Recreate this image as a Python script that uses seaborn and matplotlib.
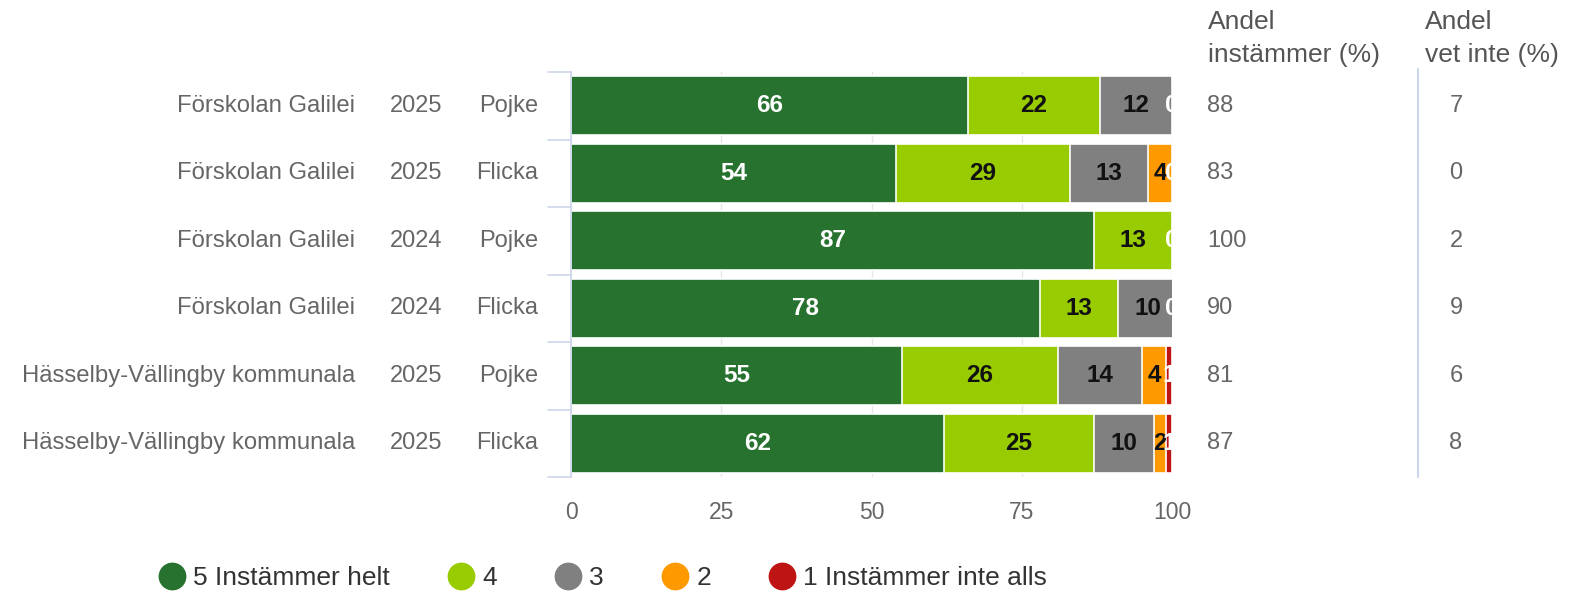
import matplotlib
matplotlib.use("Agg")
import matplotlib.pyplot as plt
import matplotlib.transforms as mtransforms
from matplotlib.lines import Line2D
import numpy as np
import pandas as pd
import seaborn as sns

# data
schools = ["Förskolan Galilei", "Förskolan Galilei", "Förskolan Galilei",
           "Förskolan Galilei", "Hässelby-Vällingby kommunala", "Hässelby-Vällingby kommunala"]
years = ["2025", "2025", "2024", "2024", "2025", "2025"]
genders = ["Pojke", "Flicka", "Pojke", "Flicka", "Pojke", "Flicka"]

series_names = ["5 Instämmer helt", "4", "3", "2", "1 Instämmer inte alls"]
s5 = [66, 54, 87, 78, 55, 62]
s4 = [22, 29, 13, 13, 26, 25]
s3 = [12, 13, 0, 10, 14, 10]
s2 = [0, 4, 0, 0, 4, 2]
s1 = [0, 0, 0, 0, 1, 1]
andel_instammer = [88, 83, 100, 90, 81, 87]
andel_vet_inte = [7, 0, 2, 9, 6, 8]

colors = ["#26722e", "#99cc00", "#808080", "#ff9900", "#bf1414"]
label_colors = ["white", "#111111", "#111111", "#111111", "white"]

sns.set_style("white")
plt.rcParams["font.family"] = ["Liberation Sans", "DejaVu Sans"]

W, H = 1572, 595
fig = plt.figure(figsize=(W / 100, H / 100), dpi=100)
ax = fig.add_axes([571 / W, 1 - 477 / H, 601 / W, 405 / H])

rows = [f"{s}|{y}|{g}" for s, y, g in zip(schools, years, genders)]
vals = np.array([s5, s4, s3, s2, s1], dtype=float)
cum = np.cumsum(vals, axis=0)

# stacked bars: draw cumulative totals, largest first
for k in range(len(series_names) - 1, -1, -1):
    df = pd.DataFrame({"row": rows, "value": cum[k]})
    sns.barplot(data=df, x="value", y="row", orient="h", order=rows,
                color=colors[k], width=0.87, edgecolor="white", linewidth=1.2,
                saturation=1, ax=ax, zorder=2)

ax.set_xlim(0, 100)
ax.set_ylim(len(rows) - 0.5, -0.5)
ax.set_xticks([0, 25, 50, 75, 100])
ax.set_xlabel("")
ax.set_ylabel("")
ax.set_yticks([])
ax.tick_params(axis="x", length=0, pad=17, labelsize=16.5, labelcolor="#666666")
ax.xaxis.grid(True, color="#e6e6e6", lw=1, zorder=0)
ax.set_axisbelow(True)
for side in ["top", "right", "bottom"]:
    ax.spines[side].set_visible(False)
ax.spines["left"].set_color("#ccd6eb")
ax.spines["left"].set_linewidth(1.2)

# category separators on the y axis
sep = mtransforms.blended_transform_factory(fig.transFigure, ax.transData)
for b in np.arange(-0.5, len(rows), 1.0):
    ax.plot([548 / W, 571 / W], [b, b], color="#ccd6eb", lw=1.2,
            transform=sep, clip_on=False)

# segment value labels
for i in range(len(rows)):
    for k in range(len(series_names)):
        v = vals[k, i]
        if v == 0 and k != len(series_names) - 1:
            continue
        start = cum[k, i] - v
        xc = min(start + v / 2, 99.9)
        ax.text(xc, i, f"{int(v)}", ha="center", va="center", fontsize=17.5,
                fontweight="bold", color=label_colors[k], zorder=5, clip_on=False)

# left category labels (three columns)
for i in range(len(rows)):
    ax.text(355 / W, i, schools[i], transform=sep, ha="right", va="center",
            fontsize=17.2, color="#666666")
    ax.text(442 / W, i, years[i], transform=sep, ha="right", va="center",
            fontsize=17, color="#666666")
    ax.text(538 / W, i, genders[i], transform=sep, ha="right", va="center",
            fontsize=17, color="#666666")

# right-hand columns
fig.text(1208 / W, 1 - 10 / H, "Andel\ninstämmer (%)", ha="left", va="top",
         fontsize=19, color="#555555", linespacing=1.45)
fig.text(1425 / W, 1 - 10 / H, "Andel\nvet inte (%)", ha="left", va="top",
         fontsize=19, color="#555555", linespacing=1.45)
for i in range(len(rows)):
    ax.text(1207 / W, i, f"{andel_instammer[i]}", transform=sep, ha="left",
            va="center", fontsize=17, color="#666666")
    ax.text(1456 / W, i, f"{andel_vet_inte[i]}", transform=sep, ha="center",
            va="center", fontsize=17, color="#666666")
ax.plot([1418 / W, 1418 / W], [-0.55, len(rows) - 0.5], color="#ccd6eb", lw=1.5,
        transform=sep, clip_on=False)

# legend
handles = [Line2D([0], [0], marker="o", linestyle="", markersize=19,
                  markerfacecolor=c, markeredgecolor=c) for c in colors]
fig.legend(handles, series_names, loc="center", bbox_to_anchor=(603 / W, 1 - 578 / H),
           ncol=5, frameon=False, fontsize=19, labelcolor="#333333",
           handlelength=1.0, handletextpad=0.3, columnspacing=2.2)

fig.savefig("out.png", dpi=100)
